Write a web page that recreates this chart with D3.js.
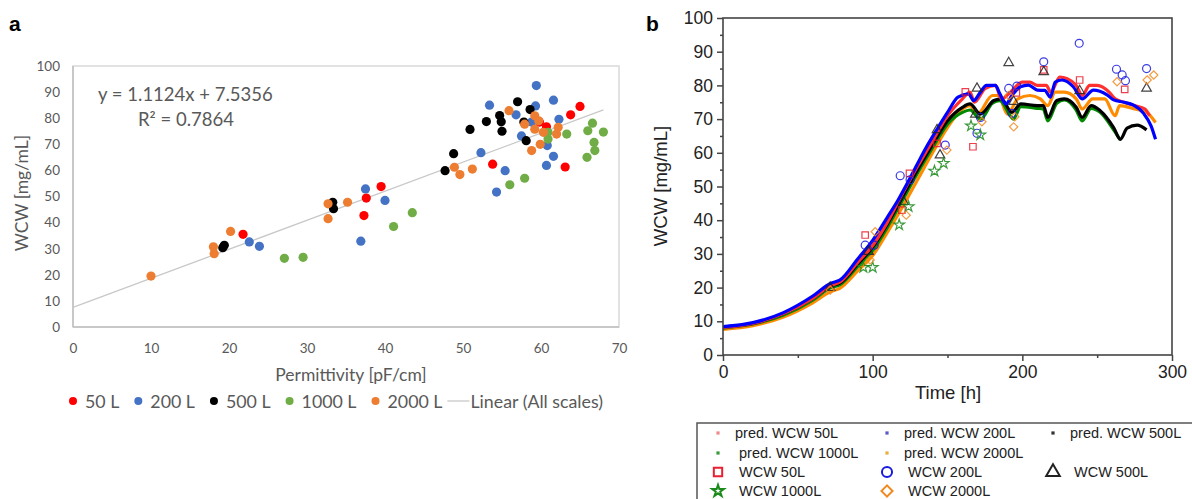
<html>
<meta charset="utf-8">
<style>
body { margin: 0; background: #fff; }
svg { display: block; }
.ta { font-family: Lato, "Open Sans", sans-serif; fill: #595959; }
.tb { font-family: "Liberation Sans", Arial, sans-serif; fill: #222; }
</style>
<body>
<script src="https://cdn.jsdelivr.net/npm/d3@7"></script>
<script>

/*******************
panel a data: [permittivity, WCW]
********************/
var a50 = [[21.8,35.5],[37.6,49.4],[37.3,42.7],[39.5,53.8],[53.8,62.4],[63.1,61.3],[59.8,78.5],[60.7,76.7],[63.8,81.3],[65.0,84.5]];
var a200 = [[22.6,32.6],[23.9,30.9],[36.9,32.9],[37.5,52.9],[40.0,48.5],[52.3,66.8],[54.3,51.7],[55.4,59.9],[53.4,85.0],[56.8,81.3],
  [57.5,73.2],[58.8,78.5],[59.3,84.7],[59.4,92.5],[60.7,61.9],[60.8,69.5],[61.6,65.4],[61.6,86.9],[62.3,79.6]];
var a500 = [[19.2,30.4],[19.4,31.3],[33.3,47.8],[33.4,45.3],[47.7,59.9],[48.8,66.4],[50.9,75.7],[53.0,78.7],[54.7,81.0],[54.9,78.6],
  [55.0,75.0],[57.0,86.3],[57.8,78.5],[58.1,71.4],[58.6,83.3]];
var a1000 = [[27.1,26.3],[29.5,26.7],[41.1,38.5],[43.5,43.8],[56.0,54.5],[57.9,57.0],[60.9,74.6],[60.9,72.0],[63.3,73.9],[65.9,65.0],
  [66.0,75.2],[66.6,78.1],[66.8,70.7],[66.9,67.6],[68.0,74.7]];
var a2000 = [[10.0,19.5],[18.0,30.7],[18.1,28.1],[20.2,36.6],[32.7,47.2],[32.7,41.5],[35.2,47.8],[48.9,61.2],[49.6,58.4],[51.2,60.5],
  [55.9,82.9],[57.9,77.7],[58.8,67.6],[59.2,80.9],[59.2,75.8],[59.7,79.0],[59.9,70.0],[60.3,74.6],[62.0,73.9],[62.2,76.5]];
var scaleNames = ['50 L', '200 L', '500 L', '1000 L', '2000 L'];
var slope = 1.1124, intercept = 7.5356, r2 = 0.7864;
var trendRange = [0, 68];
var aXTicks = [0,10,20,30,40,50,60,70];
var aYTicks = [0,10,20,30,40,50,60,70,80,90,100];

/*******************
panel b data: [time h, WCW]
********************/
var pred50 = [[0,8.2],[20,9.4],[40,12.2],[60,16.8],[72,20.6],[78,21.6],[90,27.5],[100,32.5],[110,39.5],[120,48],[130,56],[140,63.5],
  [150,71],[160,76],[165,78],[168,75],[175,79],[182,80],[186,76],[192,78],[200,81],[205,81],[210,80],[216,80],[219,78],[225,82.5],
  [230,82],[236,80],[240,77],[245,80],[250,80],[258,78],[262,76],[268,75],[275,74],[282,73],[285,71]];
var pred200 = [[0,8.4],[20,9.6],[40,12.5],[60,17.5],[72,21.3],[78,22.2],[90,28.5],[100,34],[110,41],[117,46],[125,52.5],[135,61],
  [143,67],[150,72],[157,76.5],[164,77.5],[167.5,75.5],[172,78],[176,80],[182,80],[185,77.5],[189,74.5],[193,77],[198.7,79.6],
  [204,80.1],[210,78.6],[215,78.5],[218.7,76.5],[222,81],[226.5,81.6],[234,79.6],[240,76],[247.5,78.6],[256.6,77.2],[261,75.7],
  [268,75],[274,74.2],[281,71.7],[286,68],[289,64]];
var pred500 = [[0,8.3],[20,9.4],[40,12.2],[60,16.8],[72,20.5],[78,21.3],[90,27],[100,32],[110,39],[120,47],[130,55],[140,62.5],
  [150,69.5],[160,73.5],[165,74.5],[172,71.5],[181,75.5],[186,76],[193,72],[199,74.5],[210,74],[214,74],[217,70.5],[223,75.5],
  [228,76],[236,73.5],[240,70.5],[246,74],[252,72.5],[261,67.5],[265.5,64],[270,67.3],[276.7,68.2],[283,66.8]];
var pred1000 = [[0,8],[20,9.2],[40,11.8],[60,16.3],[72,20],[78,20.8],[90,26.3],[100,31],[110,38],[120,46],[130,54],[140,61.5],
  [150,68.5],[160,72],[165,72.7],[172,70],[180,74.7],[185,75.5],[192,71],[194,70],[199,73.7],[210,73.2],[214,73],[217,69.5],
  [223,74.7],[228,75.7],[236,72.7],[240,69.5],[246,73.2],[252,72],[261,66.8],[265.5,63.8]];
var pred2000 = [[0,7.6],[20,8.7],[40,11.2],[60,15.5],[72,18.8],[78,19.8],[90,25],[100,29.5],[110,36.5],[120,44],[130,52],[140,60],
  [150,67.5],[160,73],[165,74],[170,71.5],[180,77],[184,77],[190,71.5],[197,76],[205,77],[212,76],[217,74],[222,78],[228,78],
  [236,76],[240,73],[247,76],[255,76],[262,71],[265,74],[275,73],[283,72],[289,69]];

var obs50 = [[95,35.6],[119.5,43],[124.6,53.9],[143,62.8],[161.9,78.1],[167,61.8],[196,77.8],[214.3,84.6],[238.3,81.6],[268.4,78.8]];
var obs200 = [[95,32.6],[101,32.6],[118.4,53.2],[125,52],[148.5,62.3],[169.7,65.8],[172,70.5],[190.9,79.1],[193,71.7],[196.4,79.8],
  [214.3,87],[238,92.5],[262.9,84.8],[266.7,83.1],[268.9,81.4],[283,85]];
var obs500 = [[71.6,20],[97.2,30.7],[120.6,45.5],[143,66.8],[145,59.3],[168.6,71.4],[169.7,79.1],[190.9,86.7],[194.2,75.2],
  [214.3,84],[238.3,78.4],[283,79.1]];
var obs1000 = [[93.8,26],[100,26],[117.7,38.6],[124,44],[141.3,54.6],[147.4,56.9],[165.7,68],[171.9,65.3]];
var obs2000 = [[71.6,19.3],[98.3,28.2],[101.7,36.6],[122.4,41.5],[149.6,60.8],[173,69.2],[191,77],[194.2,67.7],[195,70.7],
  [263.3,81.1],[283.4,81.6],[287.8,83.1]];

var predNames = ['pred. WCW 50L','pred. WCW 200L','pred. WCW 500L','pred. WCW 1000L','pred. WCW 2000L'];
var obsNames = ['WCW 50L','WCW 200L','WCW 500L','WCW 1000L','WCW 2000L'];

/********************/
var colorsA = ['#ff0000', '#4472c4', '#000000', '#70ad47', '#ed7d31'];
var lineColorsB = ['#ff3030', '#0000ff', '#000000', '#008a00', '#ff8c00'];
var predDotColors = ['#f08a8a', '#5a5ac8', '#333333', '#3a9a3a', '#e8b040'];
var markColors = ['#e82030', '#1a1ae0', '#222222', '#1a8a1a', '#f08a20'];
/* diamond is a square turned by 45 degrees, d3's own diamond is too tall */
var symbols = [d3.symbolSquare, d3.symbolCircle, d3.symbolTriangle, d3.symbolStar, d3.symbolSquare];
var symRot = [0, 0, 0, 0, 45];
var symSizes = [42, 50, 40, 36, 34];
var legSizes = [70, 80, 80, 42, 62];

var svg = d3.select("body").append("svg")
    .attr("width", 1192)
    .attr("height", 499);

/* ---------- panel a ---------- */
svg.append("text").attr("x", 9).attr("y", 31)
    .style("font", "bold 21px 'Liberation Sans', Arial").text("a");

var ax = d3.scaleLinear().domain([0, 70]).range([73, 619]);
var ay = d3.scaleLinear().domain([0, 100]).range([327, 66]);

svg.append("rect").attr("x", 73).attr("y", 66).attr("width", 546).attr("height", 261)
    .attr("fill", "none").attr("stroke", "#d9d9d9").attr("stroke-width", 1.5);
svg.append("line").attr("x1", 73).attr("x2", 73).attr("y1", 66).attr("y2", 327)
    .attr("stroke", "#bfbfbf").attr("stroke-width", 1.5);
svg.append("line").attr("x1", 73).attr("x2", 619).attr("y1", 327).attr("y2", 327)
    .attr("stroke", "#bfbfbf").attr("stroke-width", 1.5);

var axA = svg.append("g").attr("transform", "translate(0,327)")
    .call(d3.axisBottom(ax).tickValues(aXTicks).tickSize(0).tickPadding(16));
var ayA = svg.append("g").attr("transform", "translate(73,0)")
    .call(d3.axisLeft(ay).tickValues(aYTicks).tickSize(0).tickPadding(13));
[axA, ayA].forEach(function(g) {
    g.select(".domain").remove();
    g.selectAll("text").attr("class", "ta").style("font-size", "13.5px");
});

svg.append("line")
    .attr("x1", ax(trendRange[0])).attr("y1", ay(slope * trendRange[0] + intercept))
    .attr("x2", ax(trendRange[1])).attr("y2", ay(slope * trendRange[1] + intercept))
    .attr("stroke", "#c8c8c8").attr("stroke-width", 1.3);

[a50, a200, a500, a1000, a2000].forEach(function(pts, i) {
    svg.append("g").selectAll("circle").data(pts).enter().append("circle")
        .attr("cx", function(d){ return ax(d[0]); })
        .attr("cy", function(d){ return ay(d[1]); })
        .attr("r", 4.6)
        .attr("fill", colorsA[i]);
});

svg.append("text").attr("class", "ta").attr("x", 98).attr("y", 101)
    .style("font-size", "18.5px").text("y = " + slope + "x + " + intercept);
svg.append("text").attr("class", "ta").attr("x", 138).attr("y", 126)
    .style("font-size", "18.5px").text("R² = " + r2);

svg.append("text").attr("class", "ta").attr("x", 351).attr("y", 381)
    .attr("text-anchor", "middle").style("font-size", "17.5px").text("Permittivity [pF/cm]");
svg.append("text").attr("class", "ta").attr("transform", "translate(28,193) rotate(-90)")
    .attr("text-anchor", "middle").style("font-size", "17.5px").text("WCW [mg/mL]");

// legend a, laid out left to right
var lx = 73, ly = 401;
scaleNames.forEach(function(name, i) {
    svg.append("circle").attr("cx", lx).attr("cy", ly).attr("r", 4).attr("fill", colorsA[i]);
    var t = svg.append("text").attr("class", "ta").attr("x", lx + 12).attr("y", ly + 6.5)
        .style("font-size", "17.8px").text(name);
    lx += 12 + t.node().getComputedTextLength() + 19;
});
lx -= 14;
svg.append("line").attr("x1", lx).attr("x2", lx + 22).attr("y1", ly).attr("y2", ly)
    .attr("stroke", "#c8c8c8").attr("stroke-width", 1.3);
svg.append("text").attr("class", "ta").attr("x", lx + 23).attr("y", ly + 6.5)
    .style("font-size", "17.8px").text("Linear (All scales)");

/* ---------- panel b ---------- */
svg.append("text").attr("x", 646).attr("y", 31)
    .style("font", "bold 21px 'Liberation Sans', Arial").text("b");

var bx = d3.scaleLinear().domain([0, 300]).range([723, 1172]);
var by = d3.scaleLinear().domain([0, 100]).range([355, 18]);

svg.append("clipPath").attr("id", "clipb").append("rect")
    .attr("x", 723).attr("y", 18).attr("width", 449).attr("height", 337);

var plotB = svg.append("g").attr("clip-path", "url(#clipb)");
var line = d3.line().x(function(d){ return bx(d[0]); }).y(function(d){ return by(d[1]); })
    .curve(d3.curveMonotoneX);

var preds = [pred50, pred200, pred500, pred1000, pred2000];
[4, 3, 2, 0, 1].forEach(function(i) {
    plotB.append("path").datum(preds[i]).attr("d", line)
        .attr("fill", "none").attr("stroke", lineColorsB[i]).attr("stroke-width", 3.2)
        .attr("stroke-linejoin", "round");
});

var obs = [obs50, obs200, obs500, obs1000, obs2000];
obs.forEach(function(pts, i) {
    plotB.append("g").selectAll("path").data(pts).enter().append("path")
        .attr("transform", function(d){ return "translate(" + bx(d[0]) + "," + by(d[1]) + ") rotate(" + symRot[i] + ")"; })
        .attr("d", d3.symbol().type(symbols[i]).size(symSizes[i]))
        .attr("fill", "none").attr("stroke", markColors[i]).attr("stroke-width", 1.2).attr("opacity", 0.85);
});

// frame
svg.append("rect").attr("x", 723).attr("y", 18).attr("width", 449).attr("height", 337)
    .attr("fill", "none").attr("stroke", "#444").attr("stroke-width", 1.6);

var gxb = svg.append("g").attr("transform", "translate(0,355)")
    .call(d3.axisBottom(bx).tickValues([0, 100, 200, 300]).tickSize(6).tickPadding(5));
var gxm = svg.append("g").attr("transform", "translate(0,355)")
    .call(d3.axisBottom(bx).tickValues([50, 150, 250]).tickSize(3).tickFormat(""));
var gyb = svg.append("g").attr("transform", "translate(723,0)")
    .call(d3.axisLeft(by).tickValues(d3.range(0, 101, 10)).tickSize(6).tickPadding(4));
var gym = svg.append("g").attr("transform", "translate(723,0)")
    .call(d3.axisLeft(by).tickValues(d3.range(5, 100, 10)).tickSize(3).tickFormat(""));
[gxb, gxm, gyb, gym].forEach(function(g) {
    g.select(".domain").remove();
    g.selectAll("line").attr("stroke", "#444").attr("stroke-width", 1.5);
    g.selectAll("text").attr("class", "tb").style("font-size", "17.5px");
});

svg.append("text").attr("class", "tb").attr("x", 948).attr("y", 399)
    .attr("text-anchor", "middle").style("font-size", "18.5px").text("Time [h]");
svg.append("text").attr("class", "tb").attr("transform", "translate(667,186) rotate(-90)")
    .attr("text-anchor", "middle").style("font-size", "18.5px").text("WCW [mg/mL]");

// legend b
svg.append("rect").attr("x", 697).attr("y", 423).attr("width", 520).attr("height", 100)
    .attr("fill", "#fff").attr("stroke", "#555").attr("stroke-width", 1.5);

var colX = [718, 887, 1053];
var rowY = [433, 453, 472, 491];
var legPred = [[0,0],[1,0],[2,0],[0,1],[1,1]];
var legObs = [[0,2],[1,2],[2,2],[0,3],[1,3]];
predNames.forEach(function(name, i) {
    var c = legPred[i];
    svg.append("rect").attr("x", colX[c[0]] - 1.6).attr("y", rowY[c[1]] - 1.6)
        .attr("width", 3.2).attr("height", 3.2).attr("fill", predDotColors[i]);
    svg.append("text").attr("class", "tb").attr("x", colX[c[0]] + (i == 3 ? 21 : 17)).attr("y", rowY[c[1]] + 5)
        .style("font-size", "14.5px").text(name);
});
obsNames.forEach(function(name, i) {
    var c = legObs[i];
    svg.append("path")
        .attr("transform", "translate(" + colX[c[0]] + "," + rowY[c[1]] + ") rotate(" + symRot[i] + ")")
        .attr("d", d3.symbol().type(symbols[i]).size(legSizes[i]))
        .attr("fill", "none").attr("stroke", markColors[i]).attr("stroke-width", 2);
    svg.append("text").attr("class", "tb").attr("x", colX[c[0]] + 21).attr("y", rowY[c[1]] + 5)
        .style("font-size", "14.5px").text(name);
});

</script>
</body>
</html>
